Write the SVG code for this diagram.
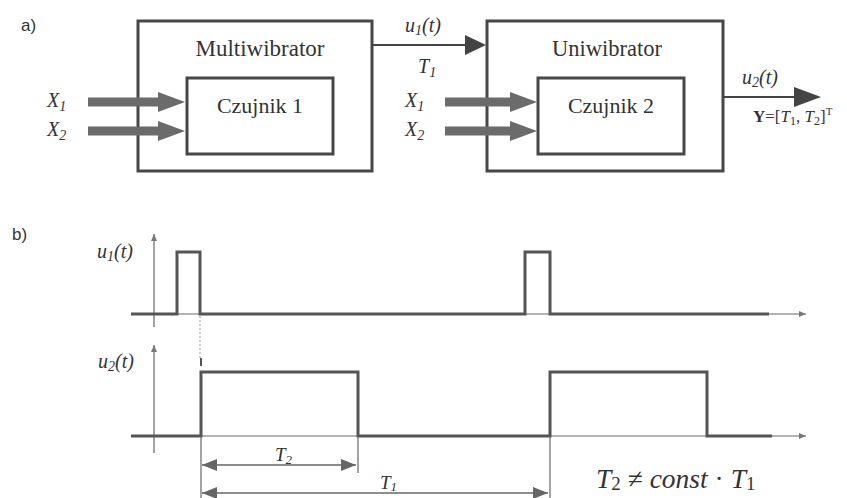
<svg xmlns="http://www.w3.org/2000/svg" width="847" height="498" viewBox="0 0 847 498">
<style>
.box{fill:none;stroke:#474747;stroke-width:3}
.t{font-family:"Liberation Serif","Times New Roman",serif;fill:#333}
.i{font-style:italic}
.tag{font-family:"Liberation Sans",sans-serif;font-size:17px;fill:#333}
.sig{fill:none;stroke:#555;stroke-width:3}
.ax{stroke:#666;stroke-width:1.2;fill:none}
.big{stroke:#6b6b6b;stroke-width:9}
.wire{stroke:#444;stroke-width:2}
.dim{stroke:#666;stroke-width:1.5}
</style>
<defs>
<marker id="fat" markerUnits="userSpaceOnUse" markerWidth="28" markerHeight="20" refX="2" refY="10" orient="auto"><path d="M0,0 L27,10 L0,20 z" fill="#6b6b6b"/></marker>
<marker id="tri" markerUnits="userSpaceOnUse" markerWidth="22" markerHeight="22" refX="1" refY="11" orient="auto"><path d="M0,1 L21,11 L0,21 z" fill="#444"/></marker>
<marker id="tri2" markerUnits="userSpaceOnUse" markerWidth="28" markerHeight="22" refX="1" refY="11" orient="auto"><path d="M0,1 L27,11 L0,21 z" fill="#444"/></marker>
<marker id="sm" markerUnits="userSpaceOnUse" markerWidth="8" markerHeight="8" refX="7" refY="4" orient="auto"><path d="M0,1 L7,4 L0,7 z" fill="#777"/></marker>
<marker id="dm" markerUnits="userSpaceOnUse" markerWidth="16" markerHeight="12" refX="15" refY="6" orient="auto-start-reverse"><path d="M0,0 L15,6 L0,12 z" fill="#666"/></marker>
</defs>

<text class="tag" x="21" y="31">a)</text>
<text class="tag" x="12" y="240">b)</text>

<g id="multiwibrator">
<rect class="box" x="138" y="21" width="234" height="150"/>
<text class="t" x="260" y="56" font-size="23" text-anchor="middle">Multiwibrator</text>
</g>
<g id="czujnik1">
<rect class="box" x="187" y="78" width="146" height="76"/>
<text class="t" x="260" y="113" font-size="22" text-anchor="middle">Czujnik 1</text>
</g>
<g id="uniwibrator">
<rect class="box" x="487" y="21" width="236" height="150"/>
<text class="t" x="607" y="56" font-size="22.5" text-anchor="middle">Uniwibrator</text>
</g>
<g id="czujnik2">
<rect class="box" x="538" y="78" width="146" height="76"/>
<text class="t" x="611" y="113" font-size="22" text-anchor="middle">Czujnik 2</text>
</g>

<g id="connectors">
<line class="big" x1="88" y1="102" x2="160" y2="102" marker-end="url(#fat)"/>
<line class="big" x1="88" y1="131" x2="160" y2="131" marker-end="url(#fat)"/>
<line class="big" x1="445" y1="102" x2="512" y2="102" marker-end="url(#fat)"/>
<line class="big" x1="445" y1="131" x2="512" y2="131" marker-end="url(#fat)"/>
<line class="wire" x1="372" y1="45" x2="466" y2="45" marker-end="url(#tri)"/>
<line class="wire" x1="723" y1="97" x2="795" y2="97" marker-end="url(#tri2)"/>
</g>

<g id="labels-a" class="t i" font-size="20">
<text x="47" y="107">X<tspan font-size="14" dy="4">1</tspan></text>
<text x="47" y="136">X<tspan font-size="14" dy="4">2</tspan></text>
<text x="405" y="107">X<tspan font-size="14" dy="4">1</tspan></text>
<text x="405" y="136">X<tspan font-size="14" dy="4">2</tspan></text>
<text x="405" y="32">u<tspan font-size="14" dy="3">1</tspan><tspan dy="-3">(t)</tspan></text>
<text x="418" y="73">T<tspan font-size="14" dy="4">1</tspan></text>
<text x="742" y="84">u<tspan font-size="14" dy="3">2</tspan><tspan dy="-3">(t)</tspan></text>
<text x="753" y="122" font-size="17" font-style="normal"><tspan font-weight="bold">Y</tspan>=[<tspan font-style="italic">T</tspan><tspan font-size="12" dy="3">1</tspan><tspan dy="-3">, </tspan><tspan font-style="italic">T</tspan><tspan font-size="12" dy="3">2</tspan><tspan dy="-3">]</tspan><tspan font-size="11" dy="-7">T</tspan></text>
</g>

<g id="plot-u1">
<line class="ax" x1="154" y1="327" x2="154" y2="234" marker-end="url(#sm)"/>
<line class="ax" x1="131" y1="314" x2="806" y2="314" marker-end="url(#sm)"/>
<polyline class="sig" points="131,314 177,314 177,252 200,252 200,314 525,314 525,252 550,252 550,314 769,314"/>
<text class="t i" x="97" y="258" font-size="20">u<tspan font-size="14" dy="3">1</tspan><tspan dy="-3">(t)</tspan></text>
</g>

<line x1="200" y1="316" x2="200" y2="360" stroke="#aaa" stroke-width="1.2" stroke-dasharray="2,2"/>
<line x1="201" y1="358" x2="201" y2="366" stroke="#555" stroke-width="2"/>

<g id="plot-u2">
<line class="ax" x1="154" y1="453" x2="154" y2="345" marker-end="url(#sm)"/>
<line class="ax" x1="131" y1="436" x2="806" y2="436" marker-end="url(#sm)"/>
<polyline class="sig" points="131,436 201,436 201,372 358,372 358,436 550,436 550,372 707,372 707,436 772,436"/>
<text class="t i" x="98" y="368" font-size="20">u<tspan font-size="14" dy="3">2</tspan><tspan dy="-3">(t)</tspan></text>
</g>

<g id="dimensions">
<line class="ax" x1="201" y1="436" x2="201" y2="498"/>
<line class="ax" x1="358" y1="436" x2="358" y2="473"/>
<line class="ax" x1="550" y1="436" x2="550" y2="498"/>
<line class="dim" x1="202" y1="465" x2="356" y2="465" marker-start="url(#dm)" marker-end="url(#dm)"/>
<line class="dim" x1="202" y1="493" x2="548" y2="493" marker-start="url(#dm)" marker-end="url(#dm)"/>
<text class="t i" x="275" y="461" font-size="19">T<tspan font-size="13" dy="3">2</tspan></text>
<text class="t i" x="380" y="489" font-size="19">T<tspan font-size="13" dy="2">1</tspan></text>
</g>

<text class="t" x="596" y="488" font-size="27.5"><tspan font-style="italic">T</tspan><tspan font-size="19" dy="2">2</tspan><tspan dy="-2"> ≠ </tspan><tspan font-style="italic">const</tspan> · <tspan font-style="italic">T</tspan><tspan font-size="19" dy="2">1</tspan></text>
</svg>
